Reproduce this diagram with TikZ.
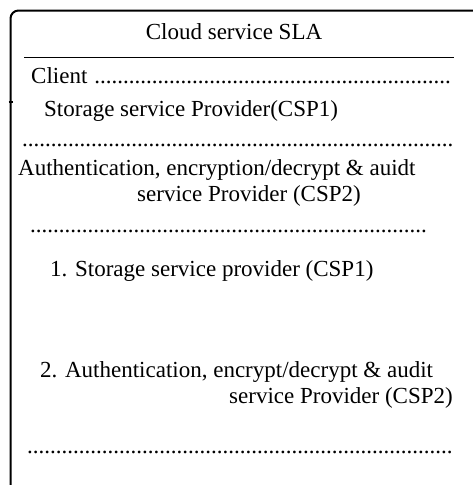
\documentclass[tikz,border=0pt]{standalone}
\usepackage{fontspec}
\setmainfont{Liberation Serif}
\newcommand{\dotrow}[2]{\hbox to #1{#2\leaders\hbox{.}\hfill}}
\tikzset{
  txt/.style={inner sep=0pt, anchor=base west, font=\fontsize{23}{26}\selectfont},
  frame/.style={line width=2pt, rounded corners=8pt}
}
\begin{document}
\begin{tikzpicture}[x=1pt,y=-1pt]
        \useasboundingbox (0,0) rectangle (473,485);
        \draw[frame] (473,10.5) -- (10.5,10.5) -- (10.5,485);
        \draw[line width=2pt] (8.5,102) -- (13,102);
        \node[txt, anchor=base] (title) at (234,39) {Cloud service SLA};
        \coordinate (ruleL) at (24,57);
        \coordinate (ruleR) at (454,57);
        \draw (ruleL) -- (ruleR);
        \node[txt] (client) at (31,83) {\dotrow{420pt}{Client }};
        \node[txt] (csp1) at (44,116) {Storage service Provider(CSP1)};
        \node[txt] (dots1) at (22,146) {\dotrow{433pt}{}};
        \node[txt] (auth) at (18,175) {Authentication, encryption/decrypt \& auidt};
        \node[txt] (auth2) at (137,201) {service Provider (CSP2)};
        \node[txt] (dots2) at (30,232) {\dotrow{402pt}{}};
        \node[txt] (item1) at (50,276) {1. Storage service provider (CSP1)};
        \node[txt] (item2) at (40,377) {2. Authentication, encrypt/decrypt \& audit};
        \node[txt, anchor=base east] (item2b) at (453,403) {service Provider (CSP2)};
        \node[txt] (dots3) at (27,453) {\dotrow{431pt}{}};
\end{tikzpicture}
\end{document}
